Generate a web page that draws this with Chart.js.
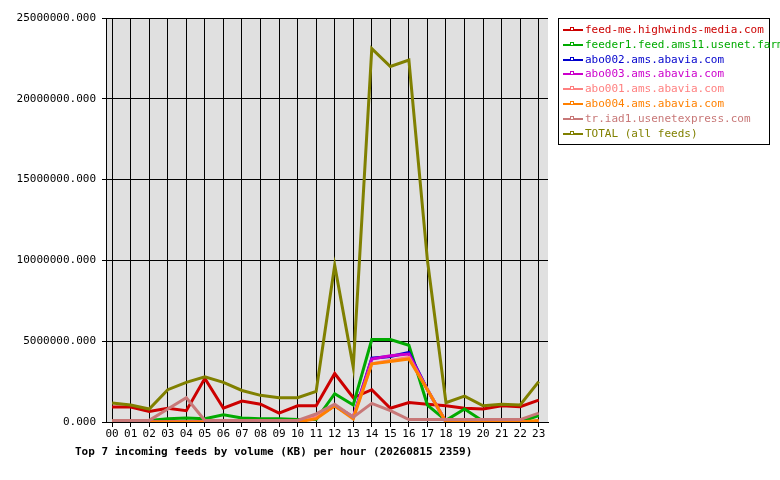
<!DOCTYPE html>
<html>
<head>
<meta charset="utf-8">
<script src="https://cdn.jsdelivr.net/npm/chart.js@4"></script>
<style>
  body { margin: 0; background: #fff; width: 780px; height: 480px; position: relative; font-family: "DejaVu Sans Mono", monospace; }
  #wrap { position: absolute; left: 0; top: 0; width: 560px; height: 480px; }
  #legend { position: absolute; left: 558px; top: 18px; width: 212px; border: 1px solid #000; padding: 4px 0 3px 4px; font-size: 11px; line-height: 14.8px; box-sizing: border-box; }
  #legend div { white-space: nowrap; }
  #legend span.k { display: inline-block; width: 20px; height: 2px; vertical-align: middle; margin-right: 2px; position: relative; }
  #legend span.k i { position: absolute; left: 7px; top: -2px; width: 4px; height: 4px; border: 1px solid; box-sizing: border-box; background: #fff; }
  #title { position: absolute; left: 75px; top: 445px; font-size: 11px; font-weight: bold; }
</style>
</head>
<body>
<div id="wrap"><canvas id="c" width="560" height="480"></canvas></div>
<div id="legend"></div>
<div id="title">Top 7 incoming feeds by volume (KB) per hour (20260815 2359)</div>
<script>
// hours 00..23
const hours = ['00','01','02','03','04','05','06','07','08','09','10','11','12','13','14','15','16','17','18','19','20','21','22','23'];

const feedMe   = [0.93,0.93,0.65,0.85,0.7,2.7,0.85,1.3,1.1,0.55,1.0,1.0,3.0,1.5,2.0,0.85,1.2,1.1,1.0,0.85,0.8,1.0,0.95,1.35];
const feeder1  = [0.1,0.1,0.1,0.2,0.25,0.2,0.45,0.25,0.2,0.2,0.15,0.15,1.75,1.05,5.1,5.1,4.75,1.05,0.1,0.8,0.05,0,0,0.4];
const abo002   = [0,0,0,0,0,0,0,0,0,0,0,0.3,1.0,0.3,3.95,4.05,4.3,2.0,0,0,0,0,0,0.05];
const abo003   = [0,0,0,0,0,0,0,0,0,0,0,0.3,1.0,0.3,3.9,4.1,4.2,2.0,0,0,0,0,0,0.05];
const abo001   = [0,0,0,0,0,0,0,0,0,0,0,0.3,1.0,0.3,3.6,3.8,4.0,2.0,0,0,0,0,0,0.05];
const abo004   = [0,0,0,0,0,0,0,0,0,0,0,0.2,1.0,0.2,3.6,3.75,3.9,2.0,0,0,0,0,0,0.1];
const trIad1   = [0.1,0.1,0.1,0.8,1.5,0.1,0.1,0.1,0.1,0.1,0.1,0.5,1.1,0.3,1.15,0.7,0.15,0.15,0.15,0.15,0.15,0.15,0.15,0.55];
const total    = [1.18,1.05,0.8,2.0,2.45,2.8,2.45,1.95,1.65,1.5,1.5,1.9,9.7,3.4,23.1,22.0,22.4,10.0,1.2,1.6,1.0,1.1,1.05,2.5];

const yTicks = [0, 5000000, 10000000, 15000000, 20000000, 25000000];

const series = [
  ['feed-me.highwinds-media.com', feedMe, '#cc0000'],
  ['feeder1.feed.ams11.usenet.farm', feeder1, '#00aa00'],
  ['abo002.ams.abavia.com', abo002, '#0000cc'],
  ['abo003.ams.abavia.com', abo003, '#cc00cc'],
  ['abo001.ams.abavia.com', abo001, '#ff8080'],
  ['abo004.ams.abavia.com', abo004, '#ff8000'],
  ['tr.iad1.usenetexpress.com', trIad1, '#c87878'],
  ['TOTAL (all feeds)', total, '#808000']
];

// legend
const legend = document.getElementById('legend');
series.forEach(([name, , color]) => {
  const d = document.createElement('div');
  d.style.color = color;
  d.innerHTML = `<span class="k" style="background:${color}"><i style="border-color:${color}"></i></span>${name}`;
  legend.appendChild(d);
});

const plotBg = {
  id: 'plotBg',
  beforeDraw(chart) {
    const { ctx, chartArea: a } = chart;
    ctx.save();
    ctx.fillStyle = '#e0e0e0';
    ctx.fillRect(a.left, a.top, a.right - a.left, a.bottom - a.top);
    ctx.restore();
  }
};

const datasets = series.map(([name, vals, color]) => ({
  label: name,
  data: vals.map((v, i) => ({ x: i, y: v * 1000000 })),
  borderColor: color,
  borderWidth: 3,
  pointRadius: 0,
  tension: 0,
  fill: false
}));

new Chart(document.getElementById('c'), {
  type: 'line',
  data: { datasets: datasets.reverse() },
  plugins: [plotBg],
  options: {
    responsive: false,
    animation: false,
    layout: { padding: { top: 18, right: 12, left: 0, bottom: 0 } },
    plugins: { legend: { display: false }, tooltip: { enabled: false } },
    scales: {
      x: {
        type: 'linear', min: -0.33, max: 23.5,
        afterBuildTicks: (ax) => { ax.ticks = hours.map((_, i) => ({ value: i })); },
        afterFit: (ax) => { ax.height = 58; },
        ticks: { color: '#000', font: { family: 'DejaVu Sans Mono', size: 11 }, padding: 1, maxRotation: 0,
                 callback: (v) => hours[v] },
        grid: { color: '#000', lineWidth: 1, tickLength: 5, drawTicks: true },
        border: { color: '#000' }
      },
      y: {
        min: 0, max: 25000000,
        afterBuildTicks: (ax) => { ax.ticks = yTicks.map(v => ({ value: v })); },
        afterFit: (ax) => { ax.width = 106; },
        ticks: { color: '#000', font: { family: 'DejaVu Sans Mono', size: 11 }, padding: 6,
                 callback: (v) => v.toFixed(3) },
        grid: { color: '#000', lineWidth: 1, tickLength: 4 },
        border: { color: '#000' }
      }
    }
  }
});
</script>
</body>
</html>
